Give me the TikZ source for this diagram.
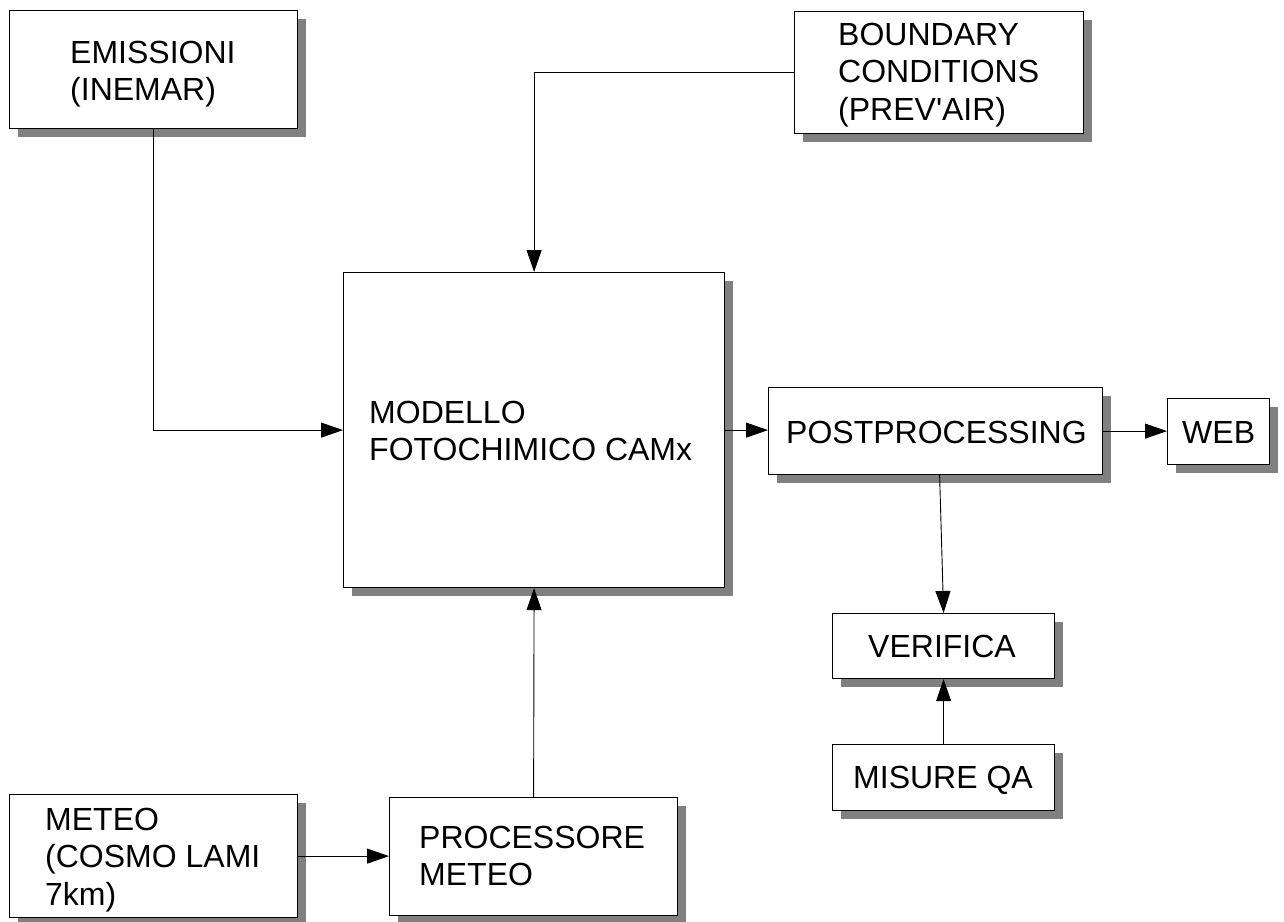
\documentclass[tikz,border=0pt]{standalone}
\usepackage{fontspec}
\newfontfamily\lblfont{Liberation Sans}
\usetikzlibrary{arrows.meta,shadows}
\definecolor{shadowgray}{HTML}{808080}
\tikzset{
  box/.style={draw=black, line width=1.2pt, fill=white, anchor=north west, inner sep=0pt,
    general shadow={shadow xshift=8pt, shadow yshift=-8pt, fill=shadowgray}},
  lbl/.style={anchor=base west, inner sep=0pt, font=\lblfont\fontsize{32}{37.5}\selectfont},
  conn/.style={draw=black, line width=0.9pt, -{Triangle[length=22pt,width=15pt]}},
}
\begin{document}
\begin{tikzpicture}[x=1pt,y=-1pt]
\useasboundingbox (0,0) rectangle (1284,921);
% boxes
\node[box, minimum width=288pt, minimum height=118pt] (emis) at (9,10) {};
\node[box, minimum width=289pt, minimum height=122pt] (bound) at (794,11) {};
\node[box, minimum width=381pt, minimum height=315pt] (camx) at (343,272) {};
\node[box, minimum width=334pt, minimum height=87pt] (post) at (768,387) {};
\node[box, minimum width=102pt, minimum height=66pt] (web) at (1167,398) {};
\node[box, minimum width=222pt, minimum height=65pt] (ver) at (832,613) {};
\node[box, minimum width=222pt, minimum height=66pt] (mis) at (832,744) {};
\node[box, minimum width=288pt, minimum height=123pt] (meteo) at (9,794) {};
\node[box, minimum width=288pt, minimum height=118pt] (proc) at (389,797) {};
% labels
\node[lbl] (emist) at (70,63) {\vtop{\hbox{EMISSIONI}\hbox{(INEMAR)}}};
\node[lbl] (boundt) at (838,45) {\vtop{\hbox{BOUNDARY}\hbox{CONDITIONS}\hbox{(PREV'AIR)}}};
\node[lbl] (camxt) at (369,423) {\vtop{\hbox{MODELLO}\hbox{FOTOCHIMICO CAMx}}};
\node[lbl] (postt) at (786,443) {POSTPROCESSING};
\node[lbl] (webt) at (1182,443) {WEB};
\node[lbl] (vert) at (868,657) {VERIFICA};
\node[lbl] (mist) at (853,788) {MISURE QA};
\node[lbl] (meteot) at (45,830) {\vtop{\hbox{METEO}\hbox{(COSMO LAMI}\hbox{7km)}}};
\node[lbl] (proct) at (419,848) {\vtop{\hbox{PROCESSORE}\hbox{METEO}}};
% connectors
\draw[conn] (emis.south) |- (camx.west);
\draw[conn] (bound.west) -| (camx.north);
\draw[conn] (camx.east) -- (camx.east -| post.west);
\draw[conn] (post.east) -- (post.east -| web.west);
\draw[conn] ([xshift=4pt]post.south) -- (ver.north);
\draw[conn] (mis.north) -- (ver.south);
\draw[conn] (meteo.east) -- (meteo.east -| proc.west);
\draw[conn] (proc.north) -- (camx.south);
\end{tikzpicture}
\end{document}
